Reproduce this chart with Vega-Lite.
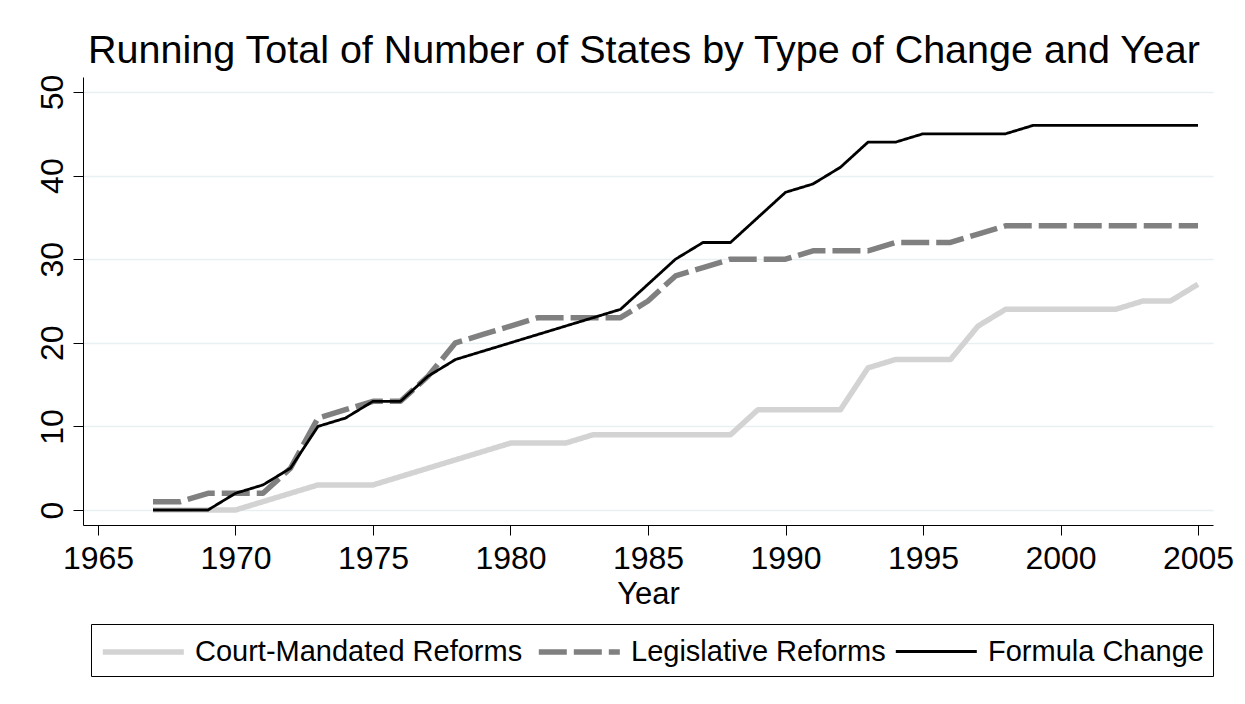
{
  "$schema": "https://vega.github.io/schema/vega-lite/v6.json",
  "autosize": {"type": "none"},
  "width": 1130,
  "height": 448,
  "padding": {"left": 83, "top": 77, "right": 32, "bottom": 179},
  "background": "white",
  "config": {
    "font": "Liberation Sans",
    "view": {"stroke": null},
    "axis": {"labelFont": "Liberation Sans", "titleFont": "Liberation Sans", "labelColor": "black", "titleColor": "black", "domainColor": "black", "tickColor": "black", "domainWidth": 1, "tickWidth": 1, "tickSize": 10},
    "legend": {"title": null, "orient": "none", "legendX": 8, "legendY": 547, "direction": "horizontal", "columns": 3, "symbolType": "M-1,0H4", "symbolSize": 1050, "labelFontSize": 29, "labelFont": "Liberation Sans", "labelColor": "black", "labelLimit": 500, "labelOffset": 57, "columnPadding": 4, "padding": 9, "strokeColor": "black", "fillColor": "white"}
  },
  "title": {"text": "Running Total of Number of States by Type of Change and Year", "fontSize": 39.5, "font": "Liberation Sans", "fontWeight": "normal", "color": "black", "anchor": "middle", "baseline": "alphabetic", "offset": 12, "dy": 40, "dx": -4},
  "datasets": {
    "series": [
      {"year": 1967, "type": "Court-Mandated Reforms", "n": 0},
      {"year": 1968, "type": "Court-Mandated Reforms", "n": 0},
      {"year": 1969, "type": "Court-Mandated Reforms", "n": 0},
      {"year": 1970, "type": "Court-Mandated Reforms", "n": 0},
      {"year": 1971, "type": "Court-Mandated Reforms", "n": 1},
      {"year": 1972, "type": "Court-Mandated Reforms", "n": 2},
      {"year": 1973, "type": "Court-Mandated Reforms", "n": 3},
      {"year": 1974, "type": "Court-Mandated Reforms", "n": 3},
      {"year": 1975, "type": "Court-Mandated Reforms", "n": 3},
      {"year": 1976, "type": "Court-Mandated Reforms", "n": 4},
      {"year": 1977, "type": "Court-Mandated Reforms", "n": 5},
      {"year": 1978, "type": "Court-Mandated Reforms", "n": 6},
      {"year": 1979, "type": "Court-Mandated Reforms", "n": 7},
      {"year": 1980, "type": "Court-Mandated Reforms", "n": 8},
      {"year": 1981, "type": "Court-Mandated Reforms", "n": 8},
      {"year": 1982, "type": "Court-Mandated Reforms", "n": 8},
      {"year": 1983, "type": "Court-Mandated Reforms", "n": 9},
      {"year": 1984, "type": "Court-Mandated Reforms", "n": 9},
      {"year": 1985, "type": "Court-Mandated Reforms", "n": 9},
      {"year": 1986, "type": "Court-Mandated Reforms", "n": 9},
      {"year": 1987, "type": "Court-Mandated Reforms", "n": 9},
      {"year": 1988, "type": "Court-Mandated Reforms", "n": 9},
      {"year": 1989, "type": "Court-Mandated Reforms", "n": 12},
      {"year": 1990, "type": "Court-Mandated Reforms", "n": 12},
      {"year": 1991, "type": "Court-Mandated Reforms", "n": 12},
      {"year": 1992, "type": "Court-Mandated Reforms", "n": 12},
      {"year": 1993, "type": "Court-Mandated Reforms", "n": 17},
      {"year": 1994, "type": "Court-Mandated Reforms", "n": 18},
      {"year": 1995, "type": "Court-Mandated Reforms", "n": 18},
      {"year": 1996, "type": "Court-Mandated Reforms", "n": 18},
      {"year": 1997, "type": "Court-Mandated Reforms", "n": 22},
      {"year": 1998, "type": "Court-Mandated Reforms", "n": 24},
      {"year": 1999, "type": "Court-Mandated Reforms", "n": 24},
      {"year": 2000, "type": "Court-Mandated Reforms", "n": 24},
      {"year": 2001, "type": "Court-Mandated Reforms", "n": 24},
      {"year": 2002, "type": "Court-Mandated Reforms", "n": 24},
      {"year": 2003, "type": "Court-Mandated Reforms", "n": 25},
      {"year": 2004, "type": "Court-Mandated Reforms", "n": 25},
      {"year": 2005, "type": "Court-Mandated Reforms", "n": 27},
      {"year": 1967, "type": "Legislative Reforms", "n": 1},
      {"year": 1968, "type": "Legislative Reforms", "n": 1},
      {"year": 1969, "type": "Legislative Reforms", "n": 2},
      {"year": 1970, "type": "Legislative Reforms", "n": 2},
      {"year": 1971, "type": "Legislative Reforms", "n": 2},
      {"year": 1972, "type": "Legislative Reforms", "n": 5},
      {"year": 1973, "type": "Legislative Reforms", "n": 11},
      {"year": 1974, "type": "Legislative Reforms", "n": 12},
      {"year": 1975, "type": "Legislative Reforms", "n": 13},
      {"year": 1976, "type": "Legislative Reforms", "n": 13},
      {"year": 1977, "type": "Legislative Reforms", "n": 16},
      {"year": 1978, "type": "Legislative Reforms", "n": 20},
      {"year": 1979, "type": "Legislative Reforms", "n": 21},
      {"year": 1980, "type": "Legislative Reforms", "n": 22},
      {"year": 1981, "type": "Legislative Reforms", "n": 23},
      {"year": 1982, "type": "Legislative Reforms", "n": 23},
      {"year": 1983, "type": "Legislative Reforms", "n": 23},
      {"year": 1984, "type": "Legislative Reforms", "n": 23},
      {"year": 1985, "type": "Legislative Reforms", "n": 25},
      {"year": 1986, "type": "Legislative Reforms", "n": 28},
      {"year": 1987, "type": "Legislative Reforms", "n": 29},
      {"year": 1988, "type": "Legislative Reforms", "n": 30},
      {"year": 1989, "type": "Legislative Reforms", "n": 30},
      {"year": 1990, "type": "Legislative Reforms", "n": 30},
      {"year": 1991, "type": "Legislative Reforms", "n": 31},
      {"year": 1992, "type": "Legislative Reforms", "n": 31},
      {"year": 1993, "type": "Legislative Reforms", "n": 31},
      {"year": 1994, "type": "Legislative Reforms", "n": 32},
      {"year": 1995, "type": "Legislative Reforms", "n": 32},
      {"year": 1996, "type": "Legislative Reforms", "n": 32},
      {"year": 1997, "type": "Legislative Reforms", "n": 33},
      {"year": 1998, "type": "Legislative Reforms", "n": 34},
      {"year": 1999, "type": "Legislative Reforms", "n": 34},
      {"year": 2000, "type": "Legislative Reforms", "n": 34},
      {"year": 2001, "type": "Legislative Reforms", "n": 34},
      {"year": 2002, "type": "Legislative Reforms", "n": 34},
      {"year": 2003, "type": "Legislative Reforms", "n": 34},
      {"year": 2004, "type": "Legislative Reforms", "n": 34},
      {"year": 2005, "type": "Legislative Reforms", "n": 34},
      {"year": 1967, "type": "Formula Change", "n": 0},
      {"year": 1968, "type": "Formula Change", "n": 0},
      {"year": 1969, "type": "Formula Change", "n": 0},
      {"year": 1970, "type": "Formula Change", "n": 2},
      {"year": 1971, "type": "Formula Change", "n": 3},
      {"year": 1972, "type": "Formula Change", "n": 5},
      {"year": 1973, "type": "Formula Change", "n": 10},
      {"year": 1974, "type": "Formula Change", "n": 11},
      {"year": 1975, "type": "Formula Change", "n": 13},
      {"year": 1976, "type": "Formula Change", "n": 13},
      {"year": 1977, "type": "Formula Change", "n": 16},
      {"year": 1978, "type": "Formula Change", "n": 18},
      {"year": 1979, "type": "Formula Change", "n": 19},
      {"year": 1980, "type": "Formula Change", "n": 20},
      {"year": 1981, "type": "Formula Change", "n": 21},
      {"year": 1982, "type": "Formula Change", "n": 22},
      {"year": 1983, "type": "Formula Change", "n": 23},
      {"year": 1984, "type": "Formula Change", "n": 24},
      {"year": 1985, "type": "Formula Change", "n": 27},
      {"year": 1986, "type": "Formula Change", "n": 30},
      {"year": 1987, "type": "Formula Change", "n": 32},
      {"year": 1988, "type": "Formula Change", "n": 32},
      {"year": 1989, "type": "Formula Change", "n": 35},
      {"year": 1990, "type": "Formula Change", "n": 38},
      {"year": 1991, "type": "Formula Change", "n": 39},
      {"year": 1992, "type": "Formula Change", "n": 41},
      {"year": 1993, "type": "Formula Change", "n": 44},
      {"year": 1994, "type": "Formula Change", "n": 44},
      {"year": 1995, "type": "Formula Change", "n": 45},
      {"year": 1996, "type": "Formula Change", "n": 45},
      {"year": 1997, "type": "Formula Change", "n": 45},
      {"year": 1998, "type": "Formula Change", "n": 45},
      {"year": 1999, "type": "Formula Change", "n": 46},
      {"year": 2000, "type": "Formula Change", "n": 46},
      {"year": 2001, "type": "Formula Change", "n": 46},
      {"year": 2002, "type": "Formula Change", "n": 46},
      {"year": 2003, "type": "Formula Change", "n": 46},
      {"year": 2004, "type": "Formula Change", "n": 46},
      {"year": 2005, "type": "Formula Change", "n": 46}
    ]
  },
  "data": {"name": "series"},
  "mark": {"type": "line", "strokeCap": "butt", "strokeJoin": "round"},
  "encoding": {
    "x": {
      "field": "year", "type": "quantitative",
      "scale": {"domain": [1964.455, 2005.545], "nice": false, "zero": false},
      "axis": {"values": [1965, 1970, 1975, 1980, 1985, 1990, 1995, 2000, 2005], "format": "d", "title": "Year", "grid": false, "labelFontSize": 32, "titleFontSize": 31, "titleFontWeight": "normal", "labelPadding": 8, "titlePadding": 5, "labelFlush": false, "labelOverlap": false}
    },
    "y": {
      "field": "n", "type": "quantitative",
      "scale": {"domain": [-1.794, 51.794], "nice": false, "zero": false},
      "axis": {"values": [0, 10, 20, 30, 40, 50], "title": null, "grid": true, "gridColor": "#e8f0f2", "gridWidth": 1.5, "labelFontSize": 32, "labelAngle": -90, "labelAlign": "center", "labelBaseline": "alphabetic", "labelPadding": 11, "labelFlush": false, "labelOverlap": false}
    },
    "color": {
      "field": "type", "type": "nominal",
      "scale": {"domain": ["Court-Mandated Reforms", "Legislative Reforms", "Formula Change"], "range": ["#d3d3d3", "#808080", "#000000"]},
      "legend": {"title": null}
    },
    "strokeDash": {
      "field": "type", "type": "nominal",
      "scale": {"domain": ["Court-Mandated Reforms", "Legislative Reforms", "Formula Change"], "range": [[1, 0], [28, 7], [1, 0]]},
      "legend": {"title": null}
    },
    "strokeWidth": {
      "field": "type", "type": "nominal",
      "scale": {"type": "ordinal", "domain": ["Court-Mandated Reforms", "Legislative Reforms", "Formula Change"], "range": [5.5, 5.5, 2.8]},
      "legend": {"title": null}
    }
  }
}
